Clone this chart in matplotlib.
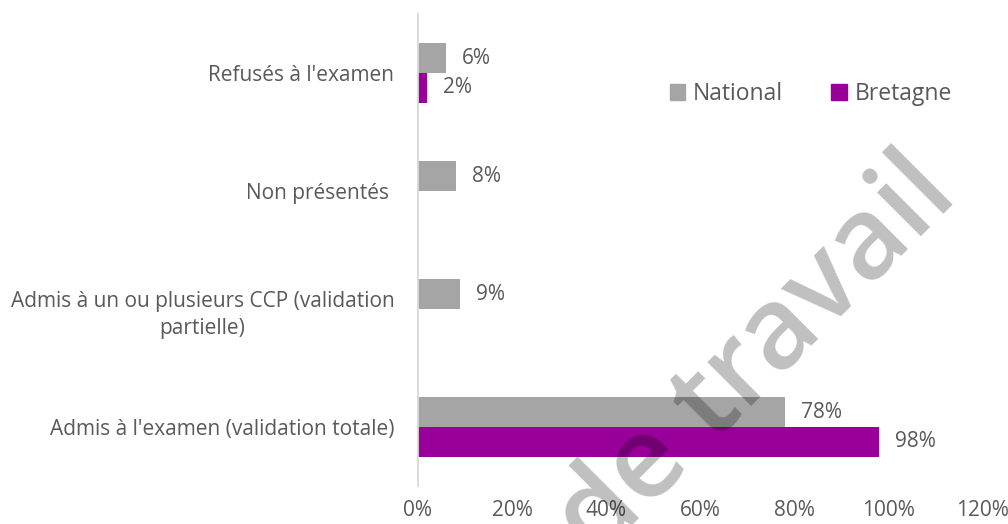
import matplotlib
matplotlib.use("Agg")
import matplotlib.pyplot as plt
from matplotlib.patches import Patch
from matplotlib import font_manager
import numpy as np

categories = ["Refusés à l'examen", "Non présentés ",
              "Admis à un ou plusieurs CCP (validation\npartielle)",
              "Admis à l'examen (validation totale)"]
national = [6, 8, 9, 78]
bretagne = [2, 0, 0, 98]
series_names = ["National", "Bretagne"]
xticks = [0, 20, 40, 60, 80, 100, 120]
xtick_labels = ["0%", "20%", "40%", "60%", "80%", "100%", "120%"]
watermark = "de travail"

GRAY = "#A5A5A5"
PURPLE = "#990099"
TXT = "#595959"
FONT = "Open Sans"
FS = 15

plt.rcParams['font.family'] = [FONT, 'DejaVu Sans']

# narrow font for the watermark if available
wm_font, wm_size, wm_weight = FONT, 82, "semibold"
try:
    font_manager.findfont(font_manager.FontProperties(family="Liberation Sans Narrow"),
                          fallback_to_default=False)
    wm_font, wm_size, wm_weight = "Liberation Sans Narrow", 102, "normal"
except Exception:
    pass

W, H = 1008, 524
fig = plt.figure(figsize=(W / 100, H / 100), dpi=100)
ax = fig.add_axes([418 / W, 1 - 486 / H, 564 / W, 472 / H])

y = np.arange(len(categories))
bh = 0.254
ax.barh(y - bh / 2, national, height=bh, color=GRAY, zorder=2)
ax.barh(y + bh / 2, bretagne, height=bh, color=PURPLE, zorder=2)

for yi, v in zip(y - bh / 2, national):
    if v:
        ax.annotate(f"{v}%", (v, yi), xytext=(11.5, 0), textcoords="offset points",
                    ha="left", va="center", color=TXT, fontsize=FS)
for yi, v in zip(y + bh / 2, bretagne):
    if v:
        ax.annotate(f"{v}%", (v, yi), xytext=(11.5, 0), textcoords="offset points",
                    ha="left", va="center", color=TXT, fontsize=FS)

ax.set_xlim(0, 120)
ax.set_ylim(3.5, -0.5)
ax.set_xticks(xticks)
ax.set_xticklabels(xtick_labels)
ax.set_yticks(y)
ax.set_yticklabels(categories)
for lbl in ax.get_yticklabels():
    lbl.set_multialignment("center")
    lbl.set_linespacing(1.4)
ax.tick_params(axis="both", length=0, colors=TXT, labelsize=FS)
ax.tick_params(axis="y", pad=17)
ax.tick_params(axis="x", pad=10)
for s in ["top", "right", "bottom"]:
    ax.spines[s].set_visible(False)
ax.spines["left"].set_color("#D9D9D9")
ax.spines["left"].set_linewidth(1.3)

handles = [Patch(color=GRAY), Patch(color=PURPLE)]
fig.legend(handles, series_names, loc="center", bbox_to_anchor=(811 / W, 1 - 94 / H),
           ncol=2, frameon=False, fontsize=16.5, labelcolor=TXT,
           handlelength=0.68, handleheight=0.68, handletextpad=0.35, columnspacing=2.1)

fig.text(960 / W, 1 - 198 / H, watermark, rotation=45, rotation_mode="anchor",
         ha="right", va="baseline", fontsize=wm_size, fontweight=wm_weight,
         color="black", alpha=0.25, family=wm_font, zorder=10)

fig.savefig("out.png", dpi=100)
